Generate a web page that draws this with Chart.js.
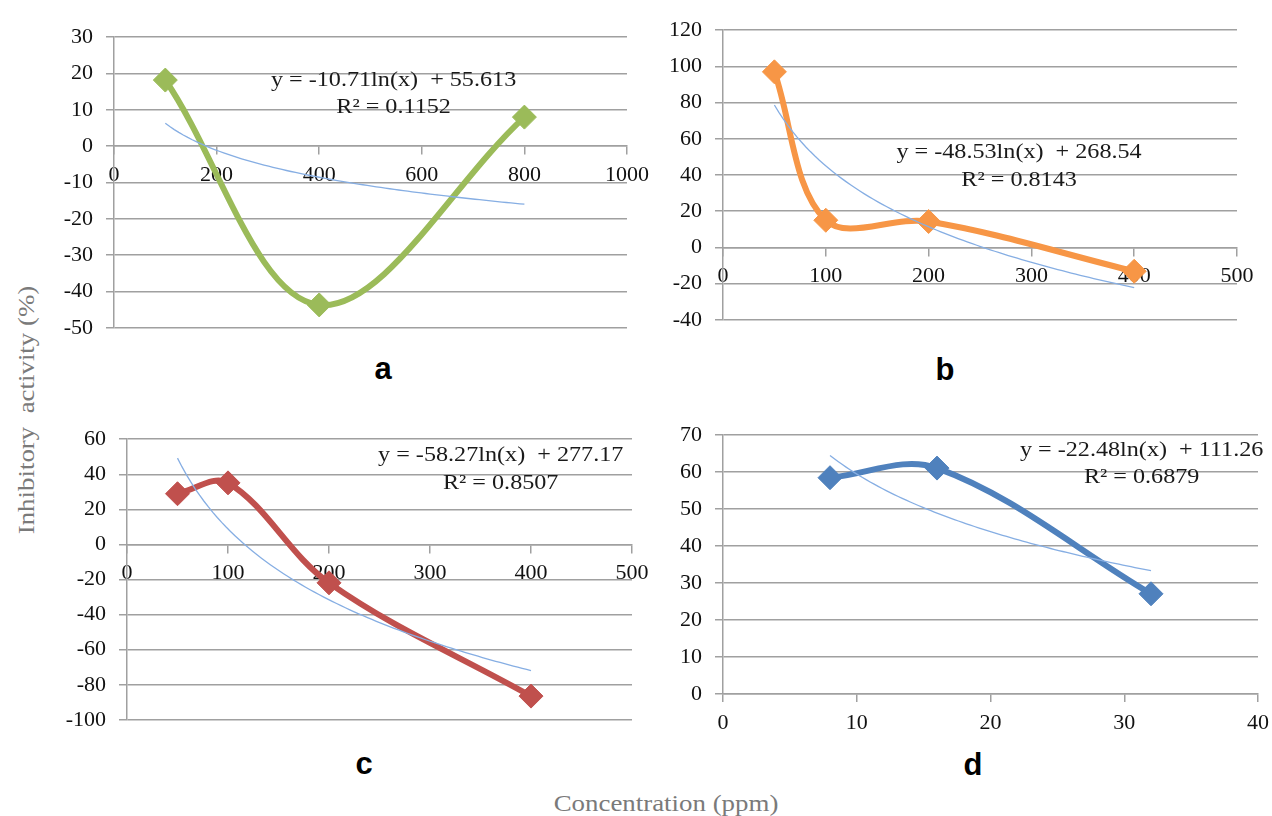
<!DOCTYPE html>
<html>
<head>
<meta charset="utf-8">
<title>Inhibitory activity vs concentration</title>
<script src="https://cdn.jsdelivr.net/npm/chart.js@4.4.1/dist/chart.umd.min.js"></script>
<style>
  body { margin: 0; background: #fff; width: 1272px; height: 816px; position: relative; overflow: hidden; }
  canvas { position: absolute; }
  .panel-tag { position: absolute; font: bold 31px "Liberation Sans", Arial, sans-serif; color: #000; transform: translate(-50%, -50%); }
  .axis-title { position: absolute; font: 24px "Liberation Serif", "Times New Roman", serif; color: #7a7a7a; white-space: pre; }
  #ytitle { left: 26px; top: 410px; transform: translate(-50%, -50%) rotate(-90deg) scaleX(1.12); }
  #xtitle { left: 666px; top: 803px; transform: translate(-50%, -50%) scaleX(1.12); }
</style>
</head>
<body>
<div class="axis-title" id="ytitle">Inhibitory  activity (%)</div>
<div class="axis-title" id="xtitle">Concentration (ppm)</div>
<div class="panel-tag" style="left:383px;top:369px">a</div>
<div class="panel-tag" style="left:945px;top:370px">b</div>
<div class="panel-tag" style="left:364px;top:764px">c</div>
<div class="panel-tag" style="left:973px;top:765px">d</div>

<script>
// concentrations (ppm) and inhibitory activity (%) for each extract
const concA = [100, 400, 800];
const inhibA = [18.2, -43.7, 8.0];
const concB = [50, 100, 200, 400];
const inhibB = [97, 15, 14.3, -13.2];
const concC = [50, 100, 200, 400];
const inhibC = [28.9, 35.1, -21.9, -86.5];
const concD = [8, 16, 32];
const inhibD = [58.5, 61.1, 27.1];

// logarithmic trendlines y = slope*ln(x) + intercept
const fitSlope = [-10.71, -48.53, -58.27, -22.48];
const fitIntercept = [55.613, 268.54, 277.17, 111.26];
const fitR2 = ['0.1152', '0.8143', '0.8507', '0.6879'];

// axis ticks
const xTicksA = [0, 200, 400, 600, 800, 1000];
const yTicksA = [-50, -40, -30, -20, -10, 0, 10, 20, 30];
const xTicksB = [0, 100, 200, 300, 400, 500];
const yTicksB = [-40, -20, 0, 20, 40, 60, 80, 100, 120];
const xTicksC = [0, 100, 200, 300, 400, 500];
const yTicksC = [-100, -80, -60, -40, -20, 0, 20, 40, 60];
const xTicksD = [0, 10, 20, 30, 40];
const yTicksD = [0, 10, 20, 30, 40, 50, 60, 70];

const SERIF = '"Liberation Serif", "Times New Roman", serif';
const GRID = '#a0a0a0';
Chart.defaults.font.family = SERIF;
Chart.defaults.font.size = 22;
Chart.defaults.color = '#111';

const panels = [
  { conc: concA, inhib: inhibA, fit: 0, color: '#9bbb59', xTicks: xTicksA, yTicks: yTicksA,
    area: [114, 25, 627, 340], xAtZero: true, labelAt: [545, 18.2] },
  { conc: concB, inhib: inhibB, fit: 1, color: '#f79646', xTicks: xTicksB, yTicks: yTicksB,
    area: [723, 18, 1237, 332], xAtZero: true, labelAt: [288, 52.2] },
  { conc: concC, inhib: inhibC, fit: 2, color: '#c0504d', xTicks: xTicksC, yTicks: yTicksC,
    area: [127, 427, 632, 732], xAtZero: true, labelAt: [370, 50.7] },
  { conc: concD, inhib: inhibD, fit: 3, color: '#4f81bd', xTicks: xTicksD, yTicks: yTicksD,
    area: [723, 423, 1258, 694], xAtZero: false, labelAt: [31.3, 65.9] }
];

// trendline equation and R² drawn as two centred lines
const equationLabel = {
  id: 'equationLabel',
  afterDatasetsDraw(chart, args, opts) {
    const { ctx, scales: { x, y } } = chart;
    ctx.save();
    ctx.font = '21px ' + SERIF;
    ctx.fillStyle = '#1a1a1a';
    ctx.textAlign = 'center';
    ctx.textBaseline = 'middle';
    ctx.translate(x.getPixelForValue(opts.at[0]), y.getPixelForValue(opts.at[1]));
    ctx.scale(1.15, 1);
    opts.lines.forEach((t, i) => ctx.fillText(t, 0, i * 27.5));
    ctx.restore();
  }
};

function trendPoints(k, xs) {
  const x0 = Math.min(...xs), x1 = Math.max(...xs);
  const pts = [];
  for (let i = 0; i <= 80; i++) {
    const x = x0 + (x1 - x0) * i / 80;
    pts.push({ x, y: fitSlope[k] * Math.log(x) + fitIntercept[k] });
  }
  return pts;
}

panels.forEach(p => {
  const [L, T, R, B] = p.area;
  const yW = 80, padT = 14, padR = 40, padB = 14, xH = p.xAtZero ? 0 : 46;
  const canvas = document.createElement('canvas');
  canvas.width = R - L + yW + padR;
  canvas.height = B - T + padT + padB + xH;
  canvas.style.left = (L - yW) + 'px';
  canvas.style.top = (T - padT) + 'px';
  document.body.appendChild(canvas);

  const k = p.fit;
  new Chart(canvas, {
    type: 'scatter',
    data: {
      datasets: [
        {
          data: trendPoints(k, p.conc),
          showLine: true,
          borderColor: '#86aee3',
          borderWidth: 1.3,
          pointRadius: 0,
          tension: 0,
          order: 0
        },
        {
          data: p.conc.map((c, i) => ({ x: c, y: p.inhib[i] })),
          showLine: true,
          borderColor: p.color,
          borderWidth: 6,
          tension: 0.35,
          pointStyle: 'rectRot',
          pointRadius: 12,
          pointBackgroundColor: p.color,
          pointBorderColor: p.color,
          pointBorderWidth: 1,
          order: 1
        }
      ]
    },
    options: {
      responsive: false,
      animation: false,
      events: [],
      layout: { padding: { top: padT, right: padR, bottom: padB, left: 0 } },
      plugins: {
        legend: { display: false },
        tooltip: { enabled: false },
        equationLabel: {
          at: p.labelAt,
          lines: [
            'y = ' + fitSlope[k] + 'ln(x)  + ' + fitIntercept[k],
            'R\u00b2 = ' + fitR2[k]
          ]
        }
      },
      scales: {
        x: {
          type: 'linear',
          position: p.xAtZero ? { y: 0 } : 'bottom',
          min: p.xTicks[0],
          max: p.xTicks[p.xTicks.length - 1],
          ticks: {
            stepSize: p.xTicks[1] - p.xTicks[0],
            padding: 8,
            maxRotation: 0,
            autoSkip: false,
            callback: v => String(v)
          },
          grid: { drawOnChartArea: false, tickLength: 8, color: GRID, lineWidth: 1.5 },
          border: { color: GRID, width: 1.5 },
          afterFit: s => { s.height = xH; }
        },
        y: {
          min: p.yTicks[0],
          max: p.yTicks[p.yTicks.length - 1],
          ticks: {
            stepSize: p.yTicks[1] - p.yTicks[0],
            padding: 13,
            callback: v => String(v)
          },
          grid: { color: GRID, lineWidth: 1.5, tickLength: 8 },
          border: { color: GRID, width: 1.5 },
          afterFit: s => { s.width = yW; }
        }
      }
    },
    plugins: [equationLabel]
  });
});
</script>
</body>
</html>
